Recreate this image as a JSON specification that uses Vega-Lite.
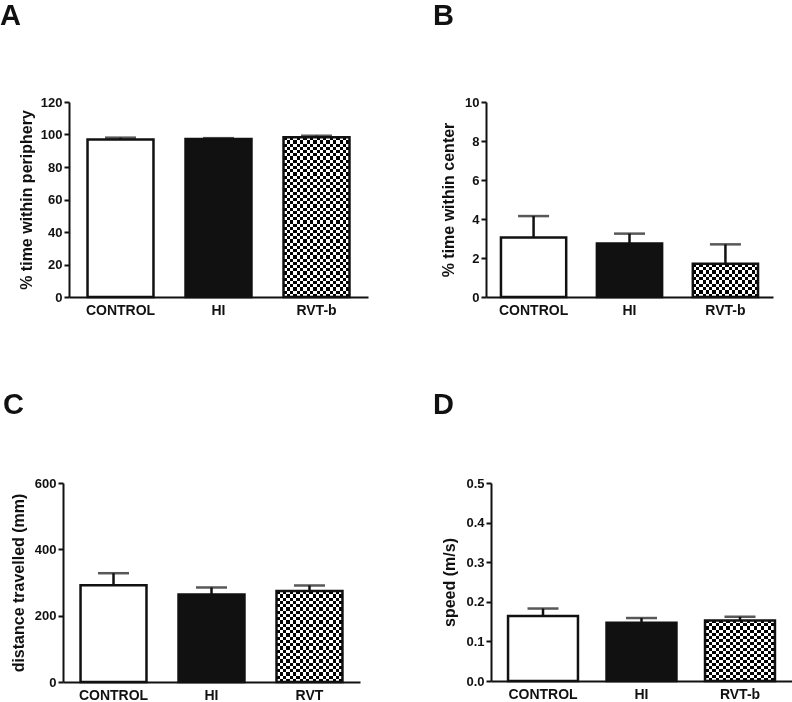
{
"$schema": "https://vega.github.io/schema/vega-lite/v6.json",
"padding": {"left": 0, "top": 2, "right": 0, "bottom": 0},
"background": "white",
"datasets": {
 "periphery": [{"group":"CONTROL","mean":96.95,"upper":98.05},{"group":"HI","mean":97.25,"upper":97.75},{"group":"RVT-b","mean":98.3,"upper":99.3}],
 "center": [{"group":"CONTROL","mean":3.05,"upper":4.15},{"group":"HI","mean":2.75,"upper":3.25},{"group":"RVT-b","mean":1.7,"upper":2.7}],
 "distance": [{"group":"CONTROL","mean":292,"upper":328},{"group":"HI","mean":264,"upper":285},{"group":"RVT","mean":274,"upper":291}],
 "speed": [{"group":"CONTROL","mean":0.164,"upper":0.183},{"group":"HI","mean":0.147,"upper":0.159},{"group":"RVT-b","mean":0.153,"upper":0.162}]
},
"spacing": 74,
"vconcat": [
 {"spacing": 65, "hconcat": [
  {
   "width": 299, "height": 195,
   "title": {"text": "A", "dx": -69, "offset": 65},
   "data": {"name": "periphery"},
   "encoding": {"x": {"field": "group", "type": "nominal", "sort": null, "scale": {"paddingInner": 0.327, "paddingOuter": 0.189}, "axis": {"title": null}}},
   "layer": [
    {"transform": [{"filter": "datum.group != 'RVT-b' && datum.group != 'RVT'"}],
     "mark": {"type": "bar", "stroke": "#111111", "strokeWidth": 2.5},
     "encoding": {"y": {"field": "mean", "type": "quantitative", "scale": {"domain": [0, 120], "nice": false}, "axis": {"values": [0,20,40,60,80,100,120], "title": "% time within periphery", "titlePadding": 6}},
      "fill": {"field": "group", "type": "nominal", "scale": {"domain": ["CONTROL", "HI"], "range": ["#ffffff", "#111111"]}, "legend": null}}},
    {"transform": [{"filter": "datum.group == 'RVT-b' || datum.group == 'RVT'"}],
     "mark": {"type": "bar", "fill": {"gradient": "linear", "x1": 0, "y1": 0, "x2": 1, "y2": 0, "stops": [{"offset":0,"color":"#000"},{"offset":0.05,"color":"#000"},{"offset":0.05,"color":"#fff"},{"offset":0.1,"color":"#fff"},{"offset":0.1,"color":"#000"},{"offset":0.15,"color":"#000"},{"offset":0.15,"color":"#fff"},{"offset":0.2,"color":"#fff"},{"offset":0.2,"color":"#000"},{"offset":0.25,"color":"#000"},{"offset":0.25,"color":"#fff"},{"offset":0.3,"color":"#fff"},{"offset":0.3,"color":"#000"},{"offset":0.35,"color":"#000"},{"offset":0.35,"color":"#fff"},{"offset":0.4,"color":"#fff"},{"offset":0.4,"color":"#000"},{"offset":0.45,"color":"#000"},{"offset":0.45,"color":"#fff"},{"offset":0.5,"color":"#fff"},{"offset":0.5,"color":"#000"},{"offset":0.55,"color":"#000"},{"offset":0.55,"color":"#fff"},{"offset":0.6,"color":"#fff"},{"offset":0.6,"color":"#000"},{"offset":0.65,"color":"#000"},{"offset":0.65,"color":"#fff"},{"offset":0.7,"color":"#fff"},{"offset":0.7,"color":"#000"},{"offset":0.75,"color":"#000"},{"offset":0.75,"color":"#fff"},{"offset":0.8,"color":"#fff"},{"offset":0.8,"color":"#000"},{"offset":0.85,"color":"#000"},{"offset":0.85,"color":"#fff"},{"offset":0.9,"color":"#fff"},{"offset":0.9,"color":"#000"},{"offset":0.95,"color":"#000"},{"offset":0.95,"color":"#fff"},{"offset":1,"color":"#fff"}]}},
     "encoding": {"y": {"field": "mean", "type": "quantitative", "scale": {"domain": [0, 120], "nice": false}, "axis": {"values": [0,20,40,60,80,100,120], "title": "% time within periphery", "titlePadding": 6}}}},
    {"transform": [{"filter": "datum.group == 'RVT-b' || datum.group == 'RVT'"}],
     "mark": {"type": "bar", "blend": "difference", "fill": {"gradient": "linear", "x1": 0, "y1": 0, "x2": 0, "y2": 1, "stops": [{"offset":0,"color":"#000"},{"offset":0.02,"color":"#000"},{"offset":0.02,"color":"#fff"},{"offset":0.04,"color":"#fff"},{"offset":0.04,"color":"#000"},{"offset":0.06,"color":"#000"},{"offset":0.06,"color":"#fff"},{"offset":0.08,"color":"#fff"},{"offset":0.08,"color":"#000"},{"offset":0.1,"color":"#000"},{"offset":0.1,"color":"#fff"},{"offset":0.12,"color":"#fff"},{"offset":0.12,"color":"#000"},{"offset":0.14,"color":"#000"},{"offset":0.14,"color":"#fff"},{"offset":0.16,"color":"#fff"},{"offset":0.16,"color":"#000"},{"offset":0.18,"color":"#000"},{"offset":0.18,"color":"#fff"},{"offset":0.2,"color":"#fff"},{"offset":0.2,"color":"#000"},{"offset":0.22,"color":"#000"},{"offset":0.22,"color":"#fff"},{"offset":0.24,"color":"#fff"},{"offset":0.24,"color":"#000"},{"offset":0.26,"color":"#000"},{"offset":0.26,"color":"#fff"},{"offset":0.28,"color":"#fff"},{"offset":0.28,"color":"#000"},{"offset":0.3,"color":"#000"},{"offset":0.3,"color":"#fff"},{"offset":0.32,"color":"#fff"},{"offset":0.32,"color":"#000"},{"offset":0.34,"color":"#000"},{"offset":0.34,"color":"#fff"},{"offset":0.36,"color":"#fff"},{"offset":0.36,"color":"#000"},{"offset":0.38,"color":"#000"},{"offset":0.38,"color":"#fff"},{"offset":0.4,"color":"#fff"},{"offset":0.4,"color":"#000"},{"offset":0.42,"color":"#000"},{"offset":0.42,"color":"#fff"},{"offset":0.44,"color":"#fff"},{"offset":0.44,"color":"#000"},{"offset":0.46,"color":"#000"},{"offset":0.46,"color":"#fff"},{"offset":0.48,"color":"#fff"},{"offset":0.48,"color":"#000"},{"offset":0.5,"color":"#000"},{"offset":0.5,"color":"#fff"},{"offset":0.52,"color":"#fff"},{"offset":0.52,"color":"#000"},{"offset":0.54,"color":"#000"},{"offset":0.54,"color":"#fff"},{"offset":0.56,"color":"#fff"},{"offset":0.56,"color":"#000"},{"offset":0.58,"color":"#000"},{"offset":0.58,"color":"#fff"},{"offset":0.6,"color":"#fff"},{"offset":0.6,"color":"#000"},{"offset":0.62,"color":"#000"},{"offset":0.62,"color":"#fff"},{"offset":0.64,"color":"#fff"},{"offset":0.64,"color":"#000"},{"offset":0.66,"color":"#000"},{"offset":0.66,"color":"#fff"},{"offset":0.68,"color":"#fff"},{"offset":0.68,"color":"#000"},{"offset":0.7,"color":"#000"},{"offset":0.7,"color":"#fff"},{"offset":0.72,"color":"#fff"},{"offset":0.72,"color":"#000"},{"offset":0.74,"color":"#000"},{"offset":0.74,"color":"#fff"},{"offset":0.76,"color":"#fff"},{"offset":0.76,"color":"#000"},{"offset":0.78,"color":"#000"},{"offset":0.78,"color":"#fff"},{"offset":0.8,"color":"#fff"},{"offset":0.8,"color":"#000"},{"offset":0.82,"color":"#000"},{"offset":0.82,"color":"#fff"},{"offset":0.84,"color":"#fff"},{"offset":0.84,"color":"#000"},{"offset":0.86,"color":"#000"},{"offset":0.86,"color":"#fff"},{"offset":0.88,"color":"#fff"},{"offset":0.88,"color":"#000"},{"offset":0.9,"color":"#000"},{"offset":0.9,"color":"#fff"},{"offset":0.92,"color":"#fff"},{"offset":0.92,"color":"#000"},{"offset":0.94,"color":"#000"},{"offset":0.94,"color":"#fff"},{"offset":0.96,"color":"#fff"},{"offset":0.96,"color":"#000"},{"offset":0.98,"color":"#000"},{"offset":0.98,"color":"#fff"},{"offset":1,"color":"#fff"}]}},
     "encoding": {"y": {"field": "mean", "type": "quantitative", "scale": {"domain": [0, 120], "nice": false}, "axis": {"values": [0,20,40,60,80,100,120], "title": "% time within periphery", "titlePadding": 6}}}},
    {"transform": [{"filter": "datum.group == 'RVT-b' || datum.group == 'RVT'"}],
     "mark": {"type": "bar", "fillOpacity": 0, "stroke": "#111111", "strokeWidth": 2.5},
     "encoding": {"y": {"field": "mean", "type": "quantitative", "scale": {"domain": [0, 120], "nice": false}, "axis": {"values": [0,20,40,60,80,100,120], "title": "% time within periphery", "titlePadding": 6}}}},
    {"mark": {"type": "rule", "color": "#111111", "strokeWidth": 2.5},
     "encoding": {"y": {"field": "upper", "type": "quantitative", "scale": {"domain": [0, 120], "nice": false}, "axis": {"values": [0,20,40,60,80,100,120], "title": "% time within periphery", "titlePadding": 6}}, "y2": {"field": "mean"}}},
    {"mark": {"type": "tick", "color": "#111111", "thickness": 2.5, "size": 31},
     "encoding": {"y": {"field": "upper", "type": "quantitative", "scale": {"domain": [0, 120], "nice": false}, "axis": {"values": [0,20,40,60,80,100,120], "title": "% time within periphery", "titlePadding": 6}}}}
   ]
  },
  {
   "width": 287, "height": 195,
   "title": {"text": "B", "dx": -53, "offset": 65},
   "data": {"name": "center"},
   "encoding": {"x": {"field": "group", "type": "nominal", "sort": null, "scale": {"paddingInner": 0.32, "paddingOuter": 0.156}, "axis": {"title": null}}},
   "layer": [
    {"transform": [{"filter": "datum.group != 'RVT-b' && datum.group != 'RVT'"}],
     "mark": {"type": "bar", "stroke": "#111111", "strokeWidth": 2.5},
     "encoding": {"y": {"field": "mean", "type": "quantitative", "scale": {"domain": [0, 10], "nice": false}, "axis": {"values": [0,2,4,6,8,10], "title": "% time within center"}},
      "fill": {"field": "group", "type": "nominal", "scale": {"domain": ["CONTROL", "HI"], "range": ["#ffffff", "#111111"]}, "legend": null}}},
    {"transform": [{"filter": "datum.group == 'RVT-b' || datum.group == 'RVT'"}],
     "mark": {"type": "bar", "fill": {"gradient": "linear", "x1": 0, "y1": 0, "x2": 1, "y2": 0, "stops": [{"offset":0,"color":"#000"},{"offset":0.05,"color":"#000"},{"offset":0.05,"color":"#fff"},{"offset":0.1,"color":"#fff"},{"offset":0.1,"color":"#000"},{"offset":0.15,"color":"#000"},{"offset":0.15,"color":"#fff"},{"offset":0.2,"color":"#fff"},{"offset":0.2,"color":"#000"},{"offset":0.25,"color":"#000"},{"offset":0.25,"color":"#fff"},{"offset":0.3,"color":"#fff"},{"offset":0.3,"color":"#000"},{"offset":0.35,"color":"#000"},{"offset":0.35,"color":"#fff"},{"offset":0.4,"color":"#fff"},{"offset":0.4,"color":"#000"},{"offset":0.45,"color":"#000"},{"offset":0.45,"color":"#fff"},{"offset":0.5,"color":"#fff"},{"offset":0.5,"color":"#000"},{"offset":0.55,"color":"#000"},{"offset":0.55,"color":"#fff"},{"offset":0.6,"color":"#fff"},{"offset":0.6,"color":"#000"},{"offset":0.65,"color":"#000"},{"offset":0.65,"color":"#fff"},{"offset":0.7,"color":"#fff"},{"offset":0.7,"color":"#000"},{"offset":0.75,"color":"#000"},{"offset":0.75,"color":"#fff"},{"offset":0.8,"color":"#fff"},{"offset":0.8,"color":"#000"},{"offset":0.85,"color":"#000"},{"offset":0.85,"color":"#fff"},{"offset":0.9,"color":"#fff"},{"offset":0.9,"color":"#000"},{"offset":0.95,"color":"#000"},{"offset":0.95,"color":"#fff"},{"offset":1,"color":"#fff"}]}},
     "encoding": {"y": {"field": "mean", "type": "quantitative", "scale": {"domain": [0, 10], "nice": false}, "axis": {"values": [0,2,4,6,8,10], "title": "% time within center"}}}},
    {"transform": [{"filter": "datum.group == 'RVT-b' || datum.group == 'RVT'"}],
     "mark": {"type": "bar", "blend": "difference", "fill": {"gradient": "linear", "x1": 0, "y1": 0, "x2": 0, "y2": 1, "stops": [{"offset":0,"color":"#000"},{"offset":0.1,"color":"#000"},{"offset":0.1,"color":"#fff"},{"offset":0.2,"color":"#fff"},{"offset":0.2,"color":"#000"},{"offset":0.3,"color":"#000"},{"offset":0.3,"color":"#fff"},{"offset":0.4,"color":"#fff"},{"offset":0.4,"color":"#000"},{"offset":0.5,"color":"#000"},{"offset":0.5,"color":"#fff"},{"offset":0.6,"color":"#fff"},{"offset":0.6,"color":"#000"},{"offset":0.7,"color":"#000"},{"offset":0.7,"color":"#fff"},{"offset":0.8,"color":"#fff"},{"offset":0.8,"color":"#000"},{"offset":0.9,"color":"#000"},{"offset":0.9,"color":"#fff"},{"offset":1,"color":"#fff"}]}},
     "encoding": {"y": {"field": "mean", "type": "quantitative", "scale": {"domain": [0, 10], "nice": false}, "axis": {"values": [0,2,4,6,8,10], "title": "% time within center"}}}},
    {"transform": [{"filter": "datum.group == 'RVT-b' || datum.group == 'RVT'"}],
     "mark": {"type": "bar", "fillOpacity": 0, "stroke": "#111111", "strokeWidth": 2.5},
     "encoding": {"y": {"field": "mean", "type": "quantitative", "scale": {"domain": [0, 10], "nice": false}, "axis": {"values": [0,2,4,6,8,10], "title": "% time within center"}}}},
    {"mark": {"type": "rule", "color": "#111111", "strokeWidth": 2.5},
     "encoding": {"y": {"field": "upper", "type": "quantitative", "scale": {"domain": [0, 10], "nice": false}, "axis": {"values": [0,2,4,6,8,10], "title": "% time within center"}}, "y2": {"field": "mean"}}},
    {"mark": {"type": "tick", "color": "#111111", "thickness": 2.5, "size": 31},
     "encoding": {"y": {"field": "upper", "type": "quantitative", "scale": {"domain": [0, 10], "nice": false}, "axis": {"values": [0,2,4,6,8,10], "title": "% time within center"}}}}
   ]
  }
 ]},
 {"spacing": 67, "hconcat": [
  {
   "width": 291, "height": 199,
   "title": {"text": "C", "dx": -66, "offset": 57},
   "data": {"name": "distance"},
   "encoding": {"x": {"field": "group", "type": "nominal", "sort": null, "scale": {"range": [-6, 291], "paddingInner": 0.327, "paddingOuter": 0.179}, "axis": {"title": null}}},
   "layer": [
    {"transform": [{"filter": "datum.group != 'RVT-b' && datum.group != 'RVT'"}],
     "mark": {"type": "bar", "stroke": "#111111", "strokeWidth": 2.5},
     "encoding": {"y": {"field": "mean", "type": "quantitative", "scale": {"domain": [0, 600], "nice": false}, "axis": {"values": [0,200,400,600], "title": "distance travelled (mm)", "offset": 6}},
      "fill": {"field": "group", "type": "nominal", "scale": {"domain": ["CONTROL", "HI"], "range": ["#ffffff", "#111111"]}, "legend": null}}},
    {"transform": [{"filter": "datum.group == 'RVT-b' || datum.group == 'RVT'"}],
     "mark": {"type": "bar", "fill": {"gradient": "linear", "x1": 0, "y1": 0, "x2": 1, "y2": 0, "stops": [{"offset":0,"color":"#000"},{"offset":0.05,"color":"#000"},{"offset":0.05,"color":"#fff"},{"offset":0.1,"color":"#fff"},{"offset":0.1,"color":"#000"},{"offset":0.15,"color":"#000"},{"offset":0.15,"color":"#fff"},{"offset":0.2,"color":"#fff"},{"offset":0.2,"color":"#000"},{"offset":0.25,"color":"#000"},{"offset":0.25,"color":"#fff"},{"offset":0.3,"color":"#fff"},{"offset":0.3,"color":"#000"},{"offset":0.35,"color":"#000"},{"offset":0.35,"color":"#fff"},{"offset":0.4,"color":"#fff"},{"offset":0.4,"color":"#000"},{"offset":0.45,"color":"#000"},{"offset":0.45,"color":"#fff"},{"offset":0.5,"color":"#fff"},{"offset":0.5,"color":"#000"},{"offset":0.55,"color":"#000"},{"offset":0.55,"color":"#fff"},{"offset":0.6,"color":"#fff"},{"offset":0.6,"color":"#000"},{"offset":0.65,"color":"#000"},{"offset":0.65,"color":"#fff"},{"offset":0.7,"color":"#fff"},{"offset":0.7,"color":"#000"},{"offset":0.75,"color":"#000"},{"offset":0.75,"color":"#fff"},{"offset":0.8,"color":"#fff"},{"offset":0.8,"color":"#000"},{"offset":0.85,"color":"#000"},{"offset":0.85,"color":"#fff"},{"offset":0.9,"color":"#fff"},{"offset":0.9,"color":"#000"},{"offset":0.95,"color":"#000"},{"offset":0.95,"color":"#fff"},{"offset":1,"color":"#fff"}]}},
     "encoding": {"y": {"field": "mean", "type": "quantitative", "scale": {"domain": [0, 600], "nice": false}, "axis": {"values": [0,200,400,600], "title": "distance travelled (mm)", "offset": 6}}}},
    {"transform": [{"filter": "datum.group == 'RVT-b' || datum.group == 'RVT'"}],
     "mark": {"type": "bar", "blend": "difference", "fill": {"gradient": "linear", "x1": 0, "y1": 0, "x2": 0, "y2": 1, "stops": [{"offset":0,"color":"#000"},{"offset":0.0357,"color":"#000"},{"offset":0.0357,"color":"#fff"},{"offset":0.0714,"color":"#fff"},{"offset":0.0714,"color":"#000"},{"offset":0.1071,"color":"#000"},{"offset":0.1071,"color":"#fff"},{"offset":0.1429,"color":"#fff"},{"offset":0.1429,"color":"#000"},{"offset":0.1786,"color":"#000"},{"offset":0.1786,"color":"#fff"},{"offset":0.2143,"color":"#fff"},{"offset":0.2143,"color":"#000"},{"offset":0.25,"color":"#000"},{"offset":0.25,"color":"#fff"},{"offset":0.2857,"color":"#fff"},{"offset":0.2857,"color":"#000"},{"offset":0.3214,"color":"#000"},{"offset":0.3214,"color":"#fff"},{"offset":0.3571,"color":"#fff"},{"offset":0.3571,"color":"#000"},{"offset":0.3929,"color":"#000"},{"offset":0.3929,"color":"#fff"},{"offset":0.4286,"color":"#fff"},{"offset":0.4286,"color":"#000"},{"offset":0.4643,"color":"#000"},{"offset":0.4643,"color":"#fff"},{"offset":0.5,"color":"#fff"},{"offset":0.5,"color":"#000"},{"offset":0.5357,"color":"#000"},{"offset":0.5357,"color":"#fff"},{"offset":0.5714,"color":"#fff"},{"offset":0.5714,"color":"#000"},{"offset":0.6071,"color":"#000"},{"offset":0.6071,"color":"#fff"},{"offset":0.6429,"color":"#fff"},{"offset":0.6429,"color":"#000"},{"offset":0.6786,"color":"#000"},{"offset":0.6786,"color":"#fff"},{"offset":0.7143,"color":"#fff"},{"offset":0.7143,"color":"#000"},{"offset":0.75,"color":"#000"},{"offset":0.75,"color":"#fff"},{"offset":0.7857,"color":"#fff"},{"offset":0.7857,"color":"#000"},{"offset":0.8214,"color":"#000"},{"offset":0.8214,"color":"#fff"},{"offset":0.8571,"color":"#fff"},{"offset":0.8571,"color":"#000"},{"offset":0.8929,"color":"#000"},{"offset":0.8929,"color":"#fff"},{"offset":0.9286,"color":"#fff"},{"offset":0.9286,"color":"#000"},{"offset":0.9643,"color":"#000"},{"offset":0.9643,"color":"#fff"},{"offset":1,"color":"#fff"}]}},
     "encoding": {"y": {"field": "mean", "type": "quantitative", "scale": {"domain": [0, 600], "nice": false}, "axis": {"values": [0,200,400,600], "title": "distance travelled (mm)", "offset": 6}}}},
    {"transform": [{"filter": "datum.group == 'RVT-b' || datum.group == 'RVT'"}],
     "mark": {"type": "bar", "fillOpacity": 0, "stroke": "#111111", "strokeWidth": 2.5},
     "encoding": {"y": {"field": "mean", "type": "quantitative", "scale": {"domain": [0, 600], "nice": false}, "axis": {"values": [0,200,400,600], "title": "distance travelled (mm)", "offset": 6}}}},
    {"mark": {"type": "rule", "color": "#111111", "strokeWidth": 2.5},
     "encoding": {"y": {"field": "upper", "type": "quantitative", "scale": {"domain": [0, 600], "nice": false}, "axis": {"values": [0,200,400,600], "title": "distance travelled (mm)", "offset": 6}}, "y2": {"field": "mean"}}},
    {"mark": {"type": "tick", "color": "#111111", "thickness": 2.5, "size": 31},
     "encoding": {"y": {"field": "upper", "type": "quantitative", "scale": {"domain": [0, 600], "nice": false}, "axis": {"values": [0,200,400,600], "title": "distance travelled (mm)", "offset": 6}}}}
   ]
  },
  {
   "width": 301, "height": 198,
   "title": {"text": "D", "dx": -58, "offset": 57},
   "data": {"name": "speed"},
   "encoding": {"x": {"field": "group", "type": "nominal", "sort": null, "scale": {"paddingInner": 0.29, "paddingOuter": 0.173}, "axis": {"title": null}}},
   "layer": [
    {"transform": [{"filter": "datum.group != 'RVT-b' && datum.group != 'RVT'"}],
     "mark": {"type": "bar", "stroke": "#111111", "strokeWidth": 2.5},
     "encoding": {"y": {"field": "mean", "type": "quantitative", "scale": {"domain": [0, 0.5], "nice": false}, "axis": {"values": [0,0.1,0.2,0.3,0.4,0.5], "format": ".1f", "title": "speed (m/s)"}},
      "fill": {"field": "group", "type": "nominal", "scale": {"domain": ["CONTROL", "HI"], "range": ["#ffffff", "#111111"]}, "legend": null}}},
    {"transform": [{"filter": "datum.group == 'RVT-b' || datum.group == 'RVT'"}],
     "mark": {"type": "bar", "fill": {"gradient": "linear", "x1": 0, "y1": 0, "x2": 1, "y2": 0, "stops": [{"offset":0,"color":"#000"},{"offset":0.05,"color":"#000"},{"offset":0.05,"color":"#fff"},{"offset":0.1,"color":"#fff"},{"offset":0.1,"color":"#000"},{"offset":0.15,"color":"#000"},{"offset":0.15,"color":"#fff"},{"offset":0.2,"color":"#fff"},{"offset":0.2,"color":"#000"},{"offset":0.25,"color":"#000"},{"offset":0.25,"color":"#fff"},{"offset":0.3,"color":"#fff"},{"offset":0.3,"color":"#000"},{"offset":0.35,"color":"#000"},{"offset":0.35,"color":"#fff"},{"offset":0.4,"color":"#fff"},{"offset":0.4,"color":"#000"},{"offset":0.45,"color":"#000"},{"offset":0.45,"color":"#fff"},{"offset":0.5,"color":"#fff"},{"offset":0.5,"color":"#000"},{"offset":0.55,"color":"#000"},{"offset":0.55,"color":"#fff"},{"offset":0.6,"color":"#fff"},{"offset":0.6,"color":"#000"},{"offset":0.65,"color":"#000"},{"offset":0.65,"color":"#fff"},{"offset":0.7,"color":"#fff"},{"offset":0.7,"color":"#000"},{"offset":0.75,"color":"#000"},{"offset":0.75,"color":"#fff"},{"offset":0.8,"color":"#fff"},{"offset":0.8,"color":"#000"},{"offset":0.85,"color":"#000"},{"offset":0.85,"color":"#fff"},{"offset":0.9,"color":"#fff"},{"offset":0.9,"color":"#000"},{"offset":0.95,"color":"#000"},{"offset":0.95,"color":"#fff"},{"offset":1,"color":"#fff"}]}},
     "encoding": {"y": {"field": "mean", "type": "quantitative", "scale": {"domain": [0, 0.5], "nice": false}, "axis": {"values": [0,0.1,0.2,0.3,0.4,0.5], "format": ".1f", "title": "speed (m/s)"}}}},
    {"transform": [{"filter": "datum.group == 'RVT-b' || datum.group == 'RVT'"}],
     "mark": {"type": "bar", "blend": "difference", "fill": {"gradient": "linear", "x1": 0, "y1": 0, "x2": 0, "y2": 1, "stops": [{"offset":0,"color":"#000"},{"offset":0.05,"color":"#000"},{"offset":0.05,"color":"#fff"},{"offset":0.1,"color":"#fff"},{"offset":0.1,"color":"#000"},{"offset":0.15,"color":"#000"},{"offset":0.15,"color":"#fff"},{"offset":0.2,"color":"#fff"},{"offset":0.2,"color":"#000"},{"offset":0.25,"color":"#000"},{"offset":0.25,"color":"#fff"},{"offset":0.3,"color":"#fff"},{"offset":0.3,"color":"#000"},{"offset":0.35,"color":"#000"},{"offset":0.35,"color":"#fff"},{"offset":0.4,"color":"#fff"},{"offset":0.4,"color":"#000"},{"offset":0.45,"color":"#000"},{"offset":0.45,"color":"#fff"},{"offset":0.5,"color":"#fff"},{"offset":0.5,"color":"#000"},{"offset":0.55,"color":"#000"},{"offset":0.55,"color":"#fff"},{"offset":0.6,"color":"#fff"},{"offset":0.6,"color":"#000"},{"offset":0.65,"color":"#000"},{"offset":0.65,"color":"#fff"},{"offset":0.7,"color":"#fff"},{"offset":0.7,"color":"#000"},{"offset":0.75,"color":"#000"},{"offset":0.75,"color":"#fff"},{"offset":0.8,"color":"#fff"},{"offset":0.8,"color":"#000"},{"offset":0.85,"color":"#000"},{"offset":0.85,"color":"#fff"},{"offset":0.9,"color":"#fff"},{"offset":0.9,"color":"#000"},{"offset":0.95,"color":"#000"},{"offset":0.95,"color":"#fff"},{"offset":1,"color":"#fff"}]}},
     "encoding": {"y": {"field": "mean", "type": "quantitative", "scale": {"domain": [0, 0.5], "nice": false}, "axis": {"values": [0,0.1,0.2,0.3,0.4,0.5], "format": ".1f", "title": "speed (m/s)"}}}},
    {"transform": [{"filter": "datum.group == 'RVT-b' || datum.group == 'RVT'"}],
     "mark": {"type": "bar", "fillOpacity": 0, "stroke": "#111111", "strokeWidth": 2.5},
     "encoding": {"y": {"field": "mean", "type": "quantitative", "scale": {"domain": [0, 0.5], "nice": false}, "axis": {"values": [0,0.1,0.2,0.3,0.4,0.5], "format": ".1f", "title": "speed (m/s)"}}}},
    {"mark": {"type": "rule", "color": "#111111", "strokeWidth": 2.5},
     "encoding": {"y": {"field": "upper", "type": "quantitative", "scale": {"domain": [0, 0.5], "nice": false}, "axis": {"values": [0,0.1,0.2,0.3,0.4,0.5], "format": ".1f", "title": "speed (m/s)"}}, "y2": {"field": "mean"}}},
    {"mark": {"type": "tick", "color": "#111111", "thickness": 2.5, "size": 31},
     "encoding": {"y": {"field": "upper", "type": "quantitative", "scale": {"domain": [0, 0.5], "nice": false}, "axis": {"values": [0,0.1,0.2,0.3,0.4,0.5], "format": ".1f", "title": "speed (m/s)"}}}}
   ]
  }
 ]}
],
"config": {
 "view": {"stroke": null},
 "font": "Liberation Sans",
 "axis": {"domainColor": "#111111", "domainWidth": 2, "tickColor": "#111111", "tickWidth": 2, "labelFont": "Liberation Sans", "labelFontWeight": "bold", "labelColor": "#111111", "titleFont": "Liberation Sans", "titleColor": "#111111", "titleFontWeight": "bold", "grid": false},
 "axisX": {"ticks": false, "labelFontSize": 14, "labelPadding": 6, "labelAngle": 0},
 "axisY": {"tickSize": 5, "labelFontSize": 13, "labelPadding": 2, "titleFontSize": 16, "titlePadding": 8},
 "title": {"fontSize": 29, "fontWeight": "bold", "font": "Liberation Sans", "anchor": "start", "frame": "group", "color": "#111111"}
}
}
